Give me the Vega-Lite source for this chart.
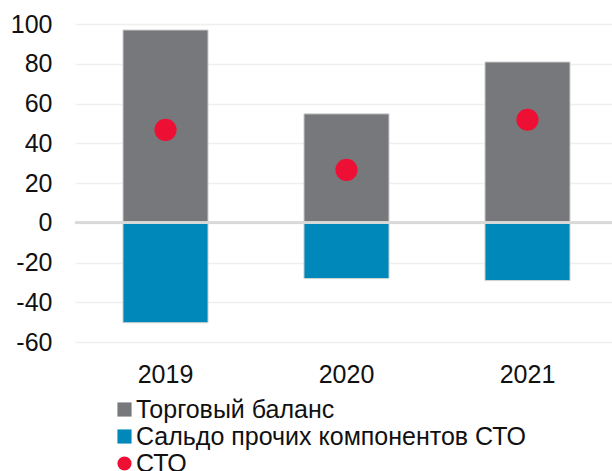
{
  "$schema": "https://vega.github.io/schema/vega-lite/v6.json",
  "autosize": "none",
  "width": 543,
  "height": 318,
  "padding": {"left": 75, "top": 24, "right": 0, "bottom": 129},
  "background": "white",
  "config": {
    "view": {"stroke": null},
    "font": "Liberation Sans",
    "axis": {"labelFont": "Liberation Sans", "labelFontSize": 25, "labelColor": "#111111", "domain": false, "ticks": false, "labelOverlap": false},
    "legend": {
      "title": null, "orient": "none", "legendX": 37, "legendY": 373, "direction": "vertical",
      "labelFont": "Liberation Sans", "labelFontSize": 25, "labelColor": "#111111", "labelLimit": 600,
      "symbolSize": 200, "symbolStrokeWidth": 0, "rowPadding": 1, "labelOffset": -1, "padding": 0
    }
  },
  "data": {
    "values": [
      {"year": "2019", "series": "Торговый баланс", "value": 97},
      {"year": "2019", "series": "Сальдо прочих компонентов СТО", "value": -50.3},
      {"year": "2019", "series": "СТО", "value": 46.7},
      {"year": "2020", "series": "Торговый баланс", "value": 54.8},
      {"year": "2020", "series": "Сальдо прочих компонентов СТО", "value": -28.1},
      {"year": "2020", "series": "СТО", "value": 26.6},
      {"year": "2021", "series": "Торговый баланс", "value": 80.9},
      {"year": "2021", "series": "Сальдо прочих компонентов СТО", "value": -29.1},
      {"year": "2021", "series": "СТО", "value": 51.8}
    ]
  },
  "encoding": {
    "x": {
      "field": "year", "type": "nominal",
      "scale": {"paddingInner": 0.53, "paddingOuter": 0.265},
      "axis": {"title": null, "labelAngle": 0, "labelPadding": 20, "grid": false}
    },
    "y": {
      "field": "value", "type": "quantitative",
      "scale": {"domain": [-60, 100], "nice": false},
      "axis": {"title": null, "values": [-60, -40, -20, 0, 20, 40, 60, 80, 100], "tickCount": 9, "labelOverlap": false, "labelFlush": false, "labelExpr": "'' + datum.value", "labelPadding": 23, "grid": true, "gridColor": "#efefef", "gridWidth": 1.5}
    }
  },
  "layer": [
    {
      "mark": {"type": "bar", "stroke": "#d4d4d4", "strokeWidth": 1},
      "transform": [{"filter": "datum.series !== 'СТО'"}],
      "encoding": {
        "y": {
          "field": "value", "type": "quantitative", "stack": "zero"
        },
        "color": {
          "field": "series", "type": "nominal",
          "scale": {"domain": ["Торговый баланс", "Сальдо прочих компонентов СТО", "СТО"], "range": ["#77787b", "#0088ba", "#ee1034"]},
          "sort": null
        },
        "order": {"field": "series", "sort": "descending"}
      }
    },
    {
      "mark": {"type": "rule", "color": "#d9d9d9", "strokeWidth": 2},
      "encoding": {"y": {"datum": 0, "type": "quantitative"}, "x": null}
    },
    {
      "mark": {"type": "point", "filled": true, "size": 490, "opacity": 1},
      "transform": [{"filter": "datum.series === 'СТО'"}],
      "encoding": {
        "color": {"field": "series", "type": "nominal"},
        "shape": {
          "field": "series", "type": "nominal",
          "scale": {"domain": ["Торговый баланс", "Сальдо прочих компонентов СТО", "СТО"], "range": ["square", "square", "circle"]}
        }
      }
    }
  ]
}
